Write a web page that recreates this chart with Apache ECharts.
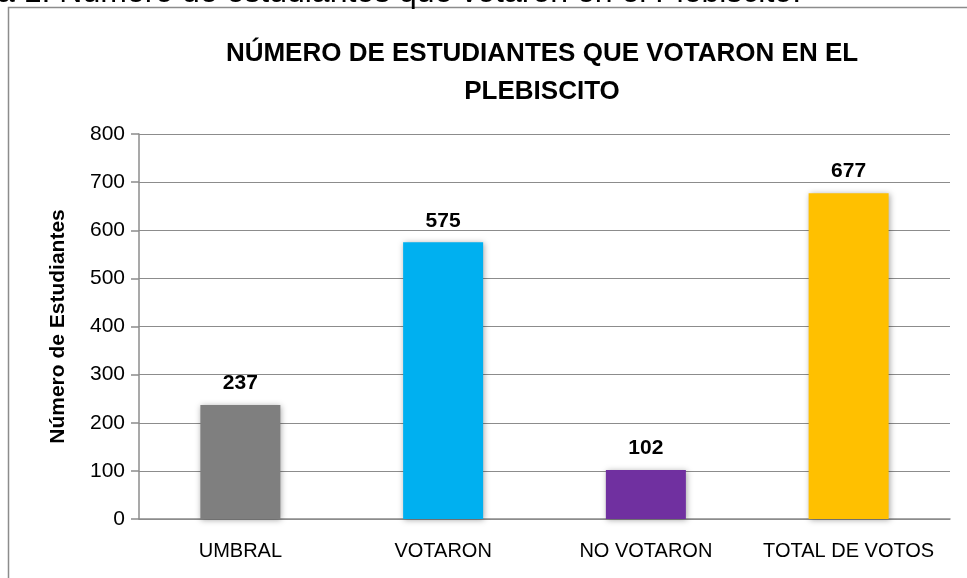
<!DOCTYPE html>
<html>
<head>
<meta charset="utf-8">
<script src="https://cdn.jsdelivr.net/npm/echarts@6/dist/echarts.min.js"></script>
<style>
  html, body { margin: 0; padding: 0; background: #fff; }
  #grafica { width: 967px; height: 578px; }
</style>
</head>
<body>
<div id="grafica"></div>
<script>
// datos del plebiscito
const categorias = ['UMBRAL', 'VOTARON', 'NO VOTARON', 'TOTAL DE VOTOS'];
const estudiantes = [237, 575, 102, 677];
const colores = ['#7f7f7f', '#00b0f0', '#7030a0', '#ffc000'];
const ticksY = [0, 100, 200, 300, 400, 500, 600, 700, 800];

const fuente = "'Liberation Sans', Arial, sans-serif";
const myChart = echarts.init(document.getElementById('grafica'));

let option = {
  backgroundColor: '#fff',
  animation: false,
  title: {
    text: 'NÚMERO DE ESTUDIANTES QUE VOTARON EN EL\nPLEBISCITO',
    left: 537,
    textAlign: 'center',
    top: 30,
    textStyle: {
      fontFamily: fuente,
      fontWeight: 'bold',
      fontSize: 26,
      lineHeight: 38,
      color: '#000'
    }
  },
  graphic: [
    { // marco del gráfico
      type: 'rect',
      shape: { x: 8.5, y: 7.5, width: 1000, height: 600 },
      style: { fill: 'none', stroke: '#8c8c8c', lineWidth: 1.5 },
      silent: true
    },
    { // pie de figura cortado arriba
      type: 'text',
      left: -3,
      top: -23,
      style: {
        text: 'a 1. Número de estudiantes que votaron en el Plebiscito.',
        font: "32px " + fuente,
        fill: '#000'
      }
    }
  ],
  grid: {
    left: 139,
    right: 17,
    top: 134,
    bottom: 59,
    containLabel: false
  },
  xAxis: {
    type: 'category',
    data: categorias,
    axisTick: { show: false },
    axisLine: { lineStyle: { color: '#8c8c8c', width: 1.5 } },
    axisLabel: {
      interval: 0,
      margin: 22,
      fontFamily: fuente,
      fontSize: 20,
      color: '#000'
    }
  },
  yAxis: {
    type: 'value',
    min: 0,
    max: 800,
    interval: 100,
    name: 'Número de Estudiantes',
    nameLocation: 'middle',
    nameGap: 70,
    nameTextStyle: {
      fontFamily: fuente,
      fontWeight: 'bold',
      fontSize: 21,
      color: '#000'
    },
    axisLine: { show: true, lineStyle: { color: '#8c8c8c', width: 1.5 } },
    axisTick: { show: true, length: 8, inside: false, lineStyle: { color: '#8c8c8c', width: 1.5 } },
    axisLabel: {
      margin: 14,
      fontFamily: fuente,
      fontSize: 21,
      color: '#000',
      formatter: v => ticksY.includes(v) ? String(v) : ''
    },
    splitLine: { lineStyle: { color: '#8c8c8c', width: 1.2 } }
  },
  series: [
    {
      type: 'bar',
      barWidth: 80,
      data: estudiantes.map((v, i) => ({
        value: v,
        itemStyle: { color: colores[i] }
      })),
      itemStyle: {
        shadowColor: 'rgba(0,0,0,0.35)',
        shadowBlur: 6,
        shadowOffsetX: 1,
        shadowOffsetY: 1
      },
      label: {
        show: true,
        position: 'top',
        distance: 11,
        fontFamily: fuente,
        fontWeight: 'bold',
        fontSize: 21,
        color: '#000',
        formatter: '{c}'
      }
    }
  ]
};

myChart.setOption(option);
</script>
</body>
</html>
